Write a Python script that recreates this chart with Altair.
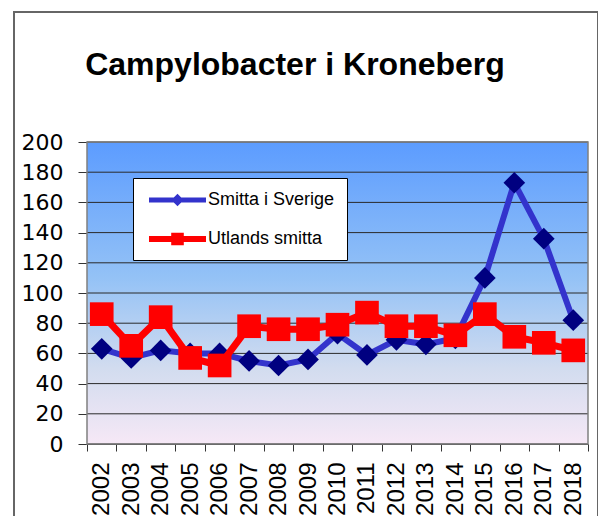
import altair as alt
import pandas as pd

years = [str(y) for y in range(2002, 2019)]
sverige = [63, 57, 62, 60, 60, 55, 52, 56, 73, 59, 69, 66, 70, 110, 173, 136, 82]
utlands = [86, 65, 84, 57, 52, 78, 76, 76, 79, 87, 78, 78, 72, 86, 71, 67, 62]
series_names = ["Smitta i Sverige", "Utlands smitta"]
y_ticks = list(range(0, 201, 20))
title_text = "Campylobacter i Kroneberg"

W, H = 501, 302

rows = []
for name, vals in zip(series_names, [sverige, utlands]):
    for yr, v in zip(years, vals):
        rows.append({"year": yr, "value": v, "series": name})
df = pd.DataFrame(rows)

x_enc = alt.X(
    "year:O",
    scale=alt.Scale(type="band", domain=years, paddingInner=0, paddingOuter=0),
    bandPosition=0.5,
    axis=alt.Axis(
        title=None, tickBand="extent", labelAngle=270, labelFont="Liberation Sans",
        labelFontSize=24, labelColor="black", tickSize=7, tickColor="#333",
        labelPadding=11, domainColor="#333", grid=False, labelOverlap=False,
        labelAlign="right", labelBaseline="middle",
    ),
)
y_scale = alt.Scale(domain=[0, 200], nice=False, zero=True)
y_enc = alt.Y(
    "value:Q",
    scale=y_scale,
    axis=alt.Axis(
        title=None, values=y_ticks, labelFont="DejaVu Sans", labelFontSize=22,
        labelColor="black", tickSize=9, tickColor="#333", labelPadding=15,
        domainColor="#333", grid=False,
    ),
)

grad = alt.LinearGradient(
    gradient="linear", x1=0, x2=0, y1=0, y2=1,
    stops=[
        alt.GradientStop(offset=0, color="#5c9cff"),
        alt.GradientStop(offset=0.45, color="#94c2f6"),
        alt.GradientStop(offset=0.75, color="#d2dcef"),
        alt.GradientStop(offset=1, color="#f6e8f6"),
    ],
)

one = pd.DataFrame({"a": [0]})
bg = alt.Chart(one).mark_rect(fill=grad).encode(
    x=alt.value(0), x2=alt.value(W), y=alt.value(0), y2=alt.value(H)
)
grid = alt.Chart(pd.DataFrame({"value": y_ticks})).mark_rule(
    color="#2a2a2a", strokeWidth=1
).encode(y=y_enc)
frame = alt.Chart(one).mark_rect(fillOpacity=0, stroke="#808080", strokeWidth=1.5).encode(
    x=alt.value(0), x2=alt.value(W), y=alt.value(0), y2=alt.value(H)
)

base = alt.Chart(df)
sv = base.transform_filter(alt.datum.series == series_names[0])
ut = base.transform_filter(alt.datum.series == series_names[1])

line_sv = sv.mark_line(color="#3333cc", strokeWidth=6).encode(x=x_enc, y=y_enc)
pts_sv = sv.mark_point(shape="diamond", filled=True, color="#000080", size=470, opacity=1).encode(x=x_enc, y=y_enc)
line_ut = ut.mark_line(color="#ff0000", strokeWidth=7).encode(x=x_enc, y=y_enc)
pts_ut = ut.mark_point(shape="square", filled=True, color="#ff0000", size=560, opacity=1).encode(x=x_enc, y=y_enc)

p_sv = "M-0.6,-0.25H5.1V0.25H-0.6Z M2.25,-0.62L2.87,0L2.25,0.62L1.63,0Z"
p_ut = "M-0.6,-0.3H5.1V0.3H-0.6Z M1.62,-0.63H2.88V0.63H1.62Z"

leg = alt.Legend(
    orient="none", legendX=46, legendY=36, title=None, fillColor="white",
    strokeColor="black", padding=12, symbolSize=400, symbolStrokeWidth=0,
    labelOffset=43, labelFont="Liberation Sans", labelFontSize=18,
    labelColor="black", rowPadding=20, symbolOpacity=1, labelLimit=0,
)
legend_layer = base.mark_point(filled=True, opacity=1, strokeWidth=0).encode(
    x=x_enc, y=y_enc,
    fill=alt.Fill("series:N", scale=alt.Scale(domain=series_names, range=["#3333cc", "#ff0000"]), legend=leg),
    shape=alt.Shape("series:N", scale=alt.Scale(domain=series_names, range=[p_sv, p_ut]), legend=leg),
).transform_filter("false")

title_layer = alt.Chart(pd.DataFrame({"t": [title_text]})).mark_text(
    font="Liberation Sans", fontSize=32, fontWeight="bold", align="center",
    baseline="alphabetic", color="black",
).encode(text="t:N", x=alt.value(208), y=alt.value(-67))

border = alt.Chart(one).mark_rect(
    fillOpacity=0, stroke="#666", strokeWidth=2
).encode(x=alt.value(-73), x2=alt.value(511), y=alt.value(-130), y2=alt.value(400))

chart = alt.layer(
    bg, grid, frame, line_sv, pts_sv, line_ut, pts_ut, legend_layer, title_layer, border
).properties(
    width=W, height=H,
    autosize=alt.AutoSizeParams(type="none"),
    padding={"left": 79, "top": 134, "right": 10, "bottom": 72},
    background="white",
).configure_view(stroke=None)

chart.save("out.html", embed_options={"renderer": "svg", "actions": False})
